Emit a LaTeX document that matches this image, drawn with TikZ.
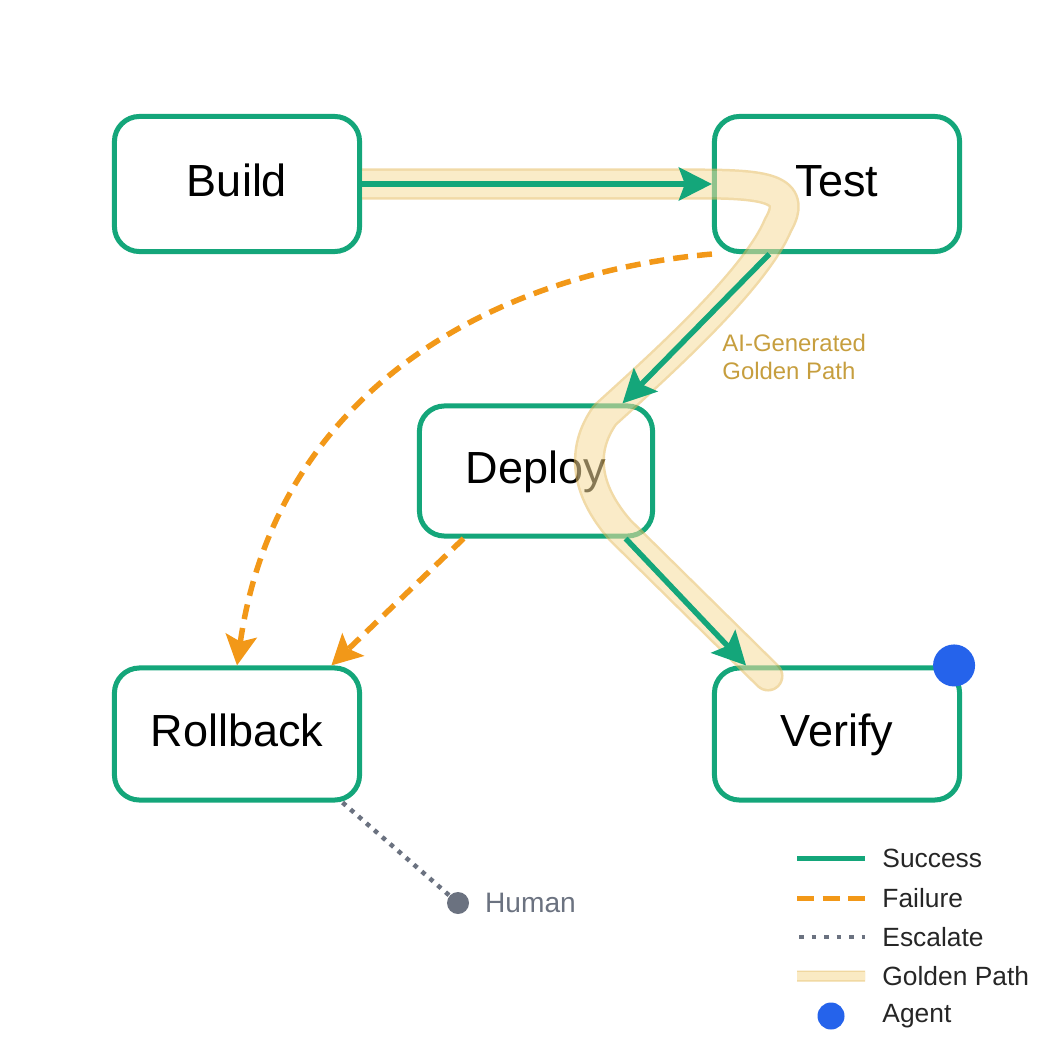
\documentclass[tikz,border=0pt]{standalone}
\usepackage{fontspec}
\setmainfont{Liberation Sans}
\usepackage{tikz}
\usetikzlibrary{positioning}
\usetikzlibrary{arrows.meta}
\definecolor{okgreen}{RGB}{20,166,122}
\definecolor{failorange}{RGB}{242,152,24}
\definecolor{escgray}{RGB}{107,114,128}
\definecolor{agentblue}{RGB}{37,99,235}
\definecolor{goldfill}{RGB}{246,220,155}
\definecolor{goldedge}{RGB}{230,188,95}
\definecolor{goldtext}{RGB}{198,158,62}

\begin{document}
\begin{tikzpicture}[x=0.01cm,y=-0.01cm]
	\useasboundingbox (0,0) rectangle (1050,1055);

	\begin{scope}[every node/.style={draw=okgreen,fill=white,line width=0.05cm,rounded corners=0.25cm,
	              minimum width=2.45cm,minimum height=1.35cm,text height=0.72em,text depth=0pt,
	              font=\fontsize{12.8}{15}\selectfont}]
	    \node (B) at (237,184) {Build};
	    \node (T) at (837,184) {Test};
	    \node[minimum width=2.33cm,minimum height=1.3cm] (D) at (536,471) {Deploy};
	    \node[minimum height=1.32cm] (R) at (237,734) {Rollback};
	    \node[minimum height=1.32cm] (V) at (837,734) {Verify};
	\end{scope}

	% golden path
	\begin{scope}
	    \clip (362,0) rectangle (1050,1055);
	    \begin{scope}[transparency group,opacity=0.55]
	        \draw[goldedge,line width=0.025cm,double=goldfill,double distance=0.26cm,line cap=round,line join=round]
	            (362,184) -- (700,184) .. controls (770,184) and (798,190) .. (778,225)
	            .. controls (755,280) and (660,365) .. (605,415)
	            .. controls (580,450) and (585,490) .. (620,530) -- (768,676);
	    \end{scope}
	\end{scope}
	\node[anchor=west,align=left,text=goldtext,font=\fontsize{6.8}{8.2}\selectfont] (G) at (710,357) {AI-Generated\\Golden Path};

	\begin{scope}[>={Stealth[length=0.33cm,width=0.33cm,inset=0.06cm]},
	              every edge/.style={draw=okgreen,line width=0.055cm}]
	    \path [->] (B) edge (T);
	    \path [->] (T.226) edge (D.38);
	    \path [->] (D.-37) edge (V.143);
	\end{scope}

	\begin{scope}[>={Stealth[length=0.3cm,width=0.31cm,inset=0.06cm]},
	              fail/.style={draw=failorange,line width=0.055cm,dash pattern=on 0.15cm off 0.09cm}]
	    \draw [fail,->] (T.south west) .. controls (480,275) and (275,400) .. (R.north);
	    \draw [fail,->] (D.223) -- (R.36);
	\end{scope}

	% escalation and agent
	\node[circle,fill=escgray,minimum size=0.22cm,inner sep=0pt] (H) at (458,903) {};
	\node[right=0.03cm of H,text=escgray,font=\fontsize{8}{9.6}\selectfont] (HL) {Human};
	\draw[escgray,line width=0.045cm,dash pattern=on 0.045cm off 0.06cm] (R.-33) -- (H);
	\node[circle,fill=agentblue,minimum size=0.42cm,inner sep=0pt] (A) at ([xshift=-0.08cm]V.north east) {};

	% legend
	\begin{scope}[every node/.style={anchor=west,text=black!85,font=\fontsize{7.5}{9}\selectfont}]
	    \node (L1) at (870,858) {Success};
	    \node (L2) at (870,898) {Failure};
	    \node (L3) at (870,937) {Escalate};
	    \node (L4) at (870,976) {Golden Path};
	    \node (L5) at (870,1016) {Agent};
	\end{scope}
	\draw[okgreen,line width=0.05cm] (797,858) -- (865,858);
	\draw[failorange,line width=0.05cm,dash pattern=on 0.17cm off 0.085cm] (797,898) -- (865,898);
	\draw[escgray,line width=0.045cm,dash pattern=on 0.045cm off 0.08cm] (799,937) -- (865,937);
	\begin{scope}[transparency group,opacity=0.6]
	    \draw[goldedge,line width=0.015cm,double=goldfill,double distance=0.08cm] (797,976) -- (865,976);
	\end{scope}
	\node[circle,fill=agentblue,minimum size=0.27cm,inner sep=0pt] (LA) at (831,1016) {};
\end{tikzpicture}
\end{document}
